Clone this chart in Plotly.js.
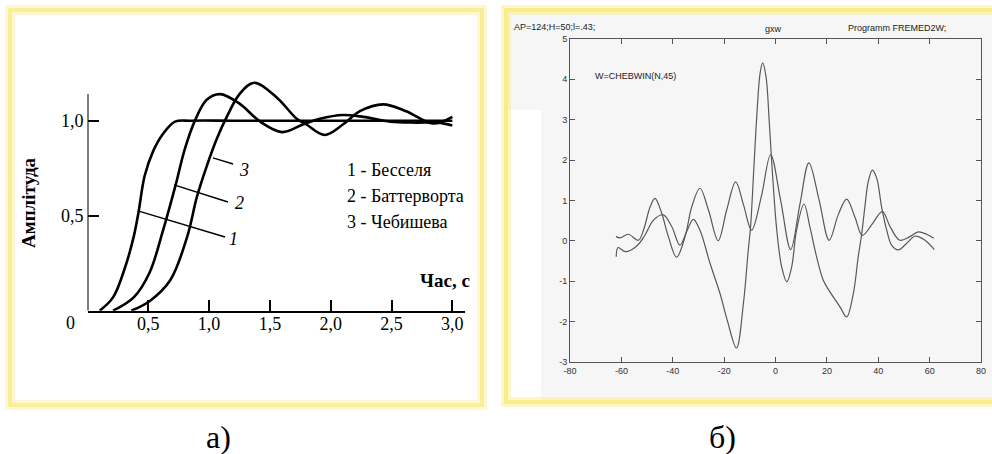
<!DOCTYPE html>
<html>
<head>
<meta charset="utf-8">
<script src="https://cdn.plot.ly/plotly-3.0.1.min.js"></script>
<style>html,body{margin:0;padding:0;background:#fff;}#chart{width:992px;height:454px;}</style>
</head>
<body>
<div id="chart"></div>
<script>
// ---- Panel а): step responses ----
const besselX = [0.10, 0.21, 0.31, 0.38, 0.42, 0.47, 0.54, 0.62, 0.72, 0.85, 1.2, 1.6, 2.0, 2.4, 2.8, 3.0];
const besselY = [0, 0.07, 0.23, 0.39, 0.52, 0.71, 0.84, 0.93, 0.995, 1.0, 1.0, 1.0, 1.0, 1.0, 1.0, 1.0];
const butterX = [0.21, 0.38, 0.51, 0.62, 0.72, 0.80, 0.88, 0.98, 1.09, 1.25, 1.42, 1.60, 1.77, 1.91, 2.10, 2.27, 2.49, 2.7, 2.88, 3.0];
const butterY = [0, 0.07, 0.20, 0.42, 0.65, 0.85, 0.995, 1.11, 1.14, 1.09, 0.995, 0.94, 0.98, 1.01, 1.03, 1.02, 0.995, 0.99, 0.99, 0.975];
const chebX = [0.36, 0.51, 0.68, 0.82, 0.90, 0.98, 1.06, 1.145, 1.25, 1.37, 1.56, 1.72, 1.80, 1.95, 2.10, 2.24, 2.43, 2.62, 2.84, 3.0];
const chebY = [0, 0.05, 0.16, 0.39, 0.60, 0.76, 0.90, 1.02, 1.14, 1.20, 1.12, 1.01, 0.98, 0.925, 0.98, 1.05, 1.086, 1.05, 0.985, 1.02];
const aTickVals = [0.5, 1.0, 1.5, 2.0, 2.5, 3.0];
const aTickText = ["0,5", "1,0", "1,5", "2,0", "2,5", "3,0"];
const aYTickVals = [0.5, 1.0];
const aYTickText = ["0,5", "1,0"];
const legendLines = ["1 - Бесселя", "2 - Баттерворта", "3 - Чебишева"];
const curveLabels = ["1", "2", "3"];
const leaderStart = [[0.415, 0.525], [0.711, 0.662], [1.032, 0.804]];
const leaderEnd = [[1.131, 0.388], [1.155, 0.572], [1.197, 0.772]];
const labelPos = [[1.199, 0.376], [1.246, 0.567], [1.287, 0.74]];

// ---- Panel б): two oscillating curves ----
const aX = [-62.0, -61.3, -58.4, -54.0, -50.8, -47.5, -43.7, -40.4, -37.2, -34.6, -32.0, -29.4, -25.5, -21.6, -18.8, -15.2, -12.5, -10.6, -9.7, -8.4, -7.3, -6.0, -5.0, -3.7, -2.4, -1.1, 0.5, 2.4, 4.4, 6.3, 8.2, 11.1, 13.4, 16.0, 18.6, 21.2, 25.1, 27.7, 30.3, 32.2, 33.5, 34.8, 36.1, 37.7, 39.4, 41.3, 43.3, 45.2, 47.8, 51.0, 54.3, 58.2, 61.8];
const aY = [-0.4, -0.17, -0.27, -0.13, 0.14, 0.51, 0.64, 0.35, -0.11, 0.22, 0.53, 0.26, -0.56, -1.31, -1.97, -2.66, -1.56, -0.23, 0.35, 1.83, 3.07, 4.15, 4.41, 4.07, 2.91, 1.59, 0.26, -0.65, -1.02, -0.65, 0.26, 0.91, 0.34, -0.40, -0.98, -1.27, -1.64, -1.89, -1.31, -0.40, 0.14, 0.84, 1.46, 1.75, 1.55, 0.84, 0.26, -0.11, -0.23, -0.07, 0.11, 0.01, -0.22];
const bX = [-62.1, -60.5, -57.3, -53.4, -51.4, -48.8, -46.9, -44.3, -41.7, -38.5, -35.2, -32.6, -29.4, -26.1, -22.3, -19.0, -15.5, -12.5, -9.3, -5.5, -1.9, 2.0, 5.9, 9.5, 13.0, 17.0, 20.9, 24.4, 27.7, 30.9, 33.8, 37.4, 41.6, 44.6, 48.4, 52.3, 55.6, 58.8, 61.6];
const bY = [0.1, 0.07, 0.16, 0.01, 0.26, 0.84, 1.05, 0.68, 0.10, -0.41, 0.10, 0.84, 1.30, 0.76, 0.0, 0.76, 1.46, 0.9, 0.26, 1.1, 2.13, 1.0, -0.22, 0.9, 1.93, 1.0, 0.01, 0.64, 1.03, 0.59, 0.13, 0.39, 0.72, 0.35, 0.01, 0.10, 0.22, 0.16, 0.06];
const bXTickVals = [-80, -60, -40, -20, 0, 20, 40, 60, 80];
const bXTickText = ["-80", "-60", "-40", "-20", "0", "20", "40", "60", "80"];
const bYTickVals = [-3, -2, -1, 0, 1, 2, 3, 4, 5];
const bYTickText = ["-3", "-2", "-1", "0", "1", "2", "3", "4", "5"];

const W = 992, H = 454;
const px = v => v / W;
const py = v => 1 - v / H;
const serif = "Liberation Serif, Times New Roman, serif";
const sans = "Liberation Sans, Arial, sans-serif";

const curveA = {shape: 'spline', smoothing: 1, color: '#000', width: 2.6};
const curveB = {shape: 'spline', smoothing: 1, color: '#585858', width: 1.2};

const traces = [
  {x: besselX, y: besselY, xaxis: 'x', yaxis: 'y', mode: 'lines', line: curveA, hoverinfo: 'skip'},
  {x: butterX, y: butterY, xaxis: 'x', yaxis: 'y', mode: 'lines', line: curveA, hoverinfo: 'skip'},
  {x: chebX, y: chebY, xaxis: 'x', yaxis: 'y', mode: 'lines', line: curveA, hoverinfo: 'skip'},
  {x: aX, y: aY, xaxis: 'x2', yaxis: 'y2', mode: 'lines', line: curveB, hoverinfo: 'skip'},
  {x: bX, y: bY, xaxis: 'x2', yaxis: 'y2', mode: 'lines', line: curveB, hoverinfo: 'skip'}
];

const shapes = [
  // panel б scanned background
  {type: 'rect', xref: 'paper', yref: 'paper', x0: px(506), x1: px(995), y0: py(402), y1: py(10), fillcolor: '#f6f6f6', line: {width: 0}, layer: 'below'},
  {type: 'rect', xref: 'paper', yref: 'paper', x0: px(506), x1: px(541), y0: py(402), y1: py(110), fillcolor: '#ffffff', line: {width: 0}, layer: 'below'},
  // yellow frames (glow)
  {type: 'rect', xref: 'paper', yref: 'paper', x0: px(10), x1: px(482), y0: py(405), y1: py(10), line: {color: 'rgba(250,240,150,0.45)', width: 10}, layer: 'below'},
  {type: 'rect', xref: 'paper', yref: 'paper', x0: px(10), x1: px(482), y0: py(405), y1: py(10), line: {color: '#f8ef98', width: 4}, layer: 'below'},
  {type: 'rect', xref: 'paper', yref: 'paper', x0: px(506), x1: px(1000), y0: py(402), y1: py(10), line: {color: 'rgba(250,238,130,0.45)', width: 10}, layer: 'below'},
  {type: 'rect', xref: 'paper', yref: 'paper', x0: px(506), x1: px(1000), y0: py(402), y1: py(10), line: {color: '#f9ec8a', width: 4}, layer: 'below'},
  // panel а y-axis line
  {type: 'line', xref: 'x', yref: 'y', x0: 0, x1: 0, y0: 0, y1: 1.14, line: {color: '#000', width: 2}}
];
for (let i = 0; i < 3; i++) {
  shapes.push({type: 'line', xref: 'x', yref: 'y', x0: leaderStart[i][0], y0: leaderStart[i][1], x1: leaderEnd[i][0], y1: leaderEnd[i][1], line: {color: '#000', width: 1.4}});
}

function note(x, y, text, font, opts) {
  return Object.assign({xref: 'paper', yref: 'paper', x: px(x), y: py(y), text: text, showarrow: false,
    xanchor: 'center', yanchor: 'middle', font: font}, opts || {});
}
const serifFont = (s) => ({family: serif, size: s, color: '#000'});
const sansFont = {family: sans, size: 9, color: '#222'};

const annotations = [
  note(28, 203, '<b>Амплітуда</b>', serifFont(19), {textangle: -90}),
  note(445, 280, '<b>Час, с</b>', serifFont(19)),
  note(70, 323, '0', serifFont(18)),
  note(218, 437, 'а)', serifFont(32)),
  note(722, 437, 'б)', serifFont(32)),
  note(512, 27, 'AP=124;H=50;l=.43;', sansFont, {xanchor: 'left'}),
  note(773, 29, 'gxw', sansFont),
  note(846, 28, 'Programm FREMED2W;', sansFont, {xanchor: 'left'}),
  note(593, 76, 'W=CHEBWIN(N,45)', sansFont, {xanchor: 'left'})
];
const legendY = [170, 196, 222];
for (let i = 0; i < 3; i++) {
  annotations.push(note(345, legendY[i], legendLines[i], serifFont(18), {xanchor: 'left'}));
  annotations.push({xref: 'x', yref: 'y', x: labelPos[i][0], y: labelPos[i][1], xanchor: 'center', yanchor: 'middle',
    text: '<i>' + curveLabels[i] + '</i>', showarrow: false, font: serifFont(18)});
}

const layout = {
  width: W, height: H,
  margin: {l: 0, r: 0, t: 0, b: 0},
  paper_bgcolor: '#ffffff',
  plot_bgcolor: 'rgba(0,0,0,0)',
  showlegend: false,
  xaxis: {
    domain: [87.5 / W, 464.5 / W], range: [0, 3.1], anchor: 'y',
    showline: true, linecolor: '#000', linewidth: 2,
    ticks: 'inside', ticklen: 11, tickwidth: 2, tickcolor: '#000',
    tickvals: aTickVals, ticktext: aTickText, ticklabelstandoff: -4,
    tickfont: {family: serif, size: 18, color: '#000'},
    showgrid: false, zeroline: false, fixedrange: true
  },
  yaxis: {
    domain: [1 - 310.7 / H, 1 - 73.2 / H], range: [0, 1.25], anchor: 'x',
    showline: false,
    ticks: 'inside', ticklen: 11, tickwidth: 2, tickcolor: '#000',
    tickvals: aYTickVals, ticktext: aYTickText, ticklabelstandoff: 3,
    tickfont: {family: serif, size: 18, color: '#000'},
    showgrid: false, zeroline: false, fixedrange: true
  },
  xaxis2: {
    domain: [570 / W, 981 / W], range: [-80, 80], anchor: 'y2',
    showline: true, mirror: 'ticks', linecolor: '#555', linewidth: 1,
    ticks: 'inside', ticklen: 5, tickcolor: '#555',
    tickvals: bXTickVals, ticktext: bXTickText,
    tickfont: {family: sans, size: 9, color: '#333'},
    showgrid: false, zeroline: false, fixedrange: true
  },
  yaxis2: {
    domain: [1 - 361.7 / H, 1 - 39 / H], range: [-3, 5], anchor: 'x2',
    showline: true, mirror: 'ticks', linecolor: '#555', linewidth: 1,
    ticks: 'inside', ticklen: 5, tickcolor: '#555',
    tickvals: bYTickVals, ticktext: bYTickText,
    tickfont: {family: sans, size: 9, color: '#333'},
    showgrid: false, zeroline: false, fixedrange: true
  },
  shapes: shapes,
  annotations: annotations
};

Plotly.newPlot('chart', traces, layout, {staticPlot: true, displayModeBar: false});
</script>
</body>
</html>
